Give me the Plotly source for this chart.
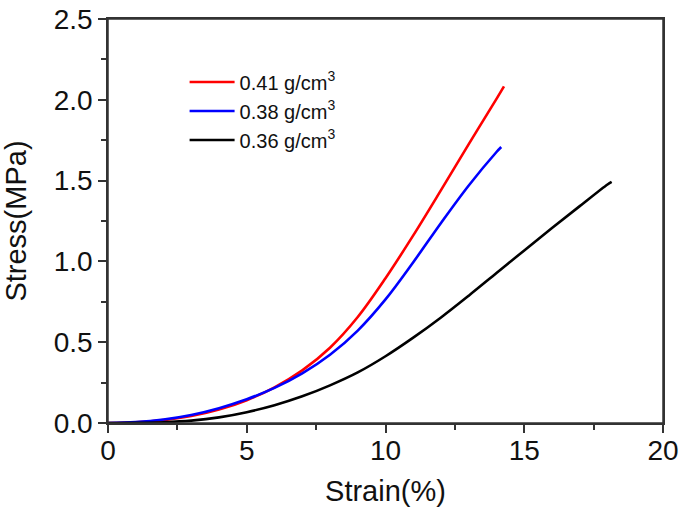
import plotly.graph_objects as go

# Data
strain_041 = [0, 1, 2, 3, 4, 5, 6, 7, 8, 9, 10, 11, 12, 13, 14, 14.27]
stress_041 = [0, 0.005, 0.018, 0.043, 0.083, 0.141, 0.221, 0.326, 0.466, 0.656, 0.896, 1.161, 1.441, 1.726, 2.006, 2.083]

strain_038 = [0, 1, 2, 3, 4, 5, 6, 7, 8, 9, 10, 11, 12, 13, 14, 14.17]
stress_038 = [0, 0.006, 0.022, 0.050, 0.092, 0.147, 0.217, 0.307, 0.422, 0.572, 0.765, 0.995, 1.238, 1.470, 1.677, 1.708]

strain_036 = [0, 1, 2, 3, 4, 5, 6, 7, 8, 9, 10, 11, 12, 13, 14, 15, 16, 17, 18, 18.15]
stress_036 = [0, 0.001, 0.005, 0.015, 0.035, 0.067, 0.110, 0.165, 0.233, 0.313, 0.413, 0.528, 0.653, 0.788, 0.928, 1.068, 1.206, 1.342, 1.476, 1.492]

series_names = ["0.41 g/cm<sup>3</sup>", "0.38 g/cm<sup>3</sup>", "0.36 g/cm<sup>3</sup>"]
series_colors = ["#FF0000", "#0000FF", "#000000"]

x_tickvals = [0, 5, 10, 15, 20]
y_tickvals = [0.0, 0.5, 1.0, 1.5, 2.0, 2.5]
y_ticktext = ["0.0", "0.5", "1.0", "1.5", "2.0", "2.5"]

fig = go.Figure()
for xs, ys, name, color in zip(
    [strain_041, strain_038, strain_036],
    [stress_041, stress_038, stress_036],
    series_names, series_colors):
    fig.add_trace(go.Scatter(x=xs, y=ys, mode="lines", name=name,
                             line=dict(color=color, width=2.6, shape="spline", smoothing=1.0)))

axis_common = dict(
    showline=True, linecolor="#333333", linewidth=1.5, mirror=True,
    ticks="outside", ticklen=8, tickwidth=1.5, tickcolor="#333333",
    showgrid=False, zeroline=False, automargin=False,
    ticklabeloverflow="allow",
    tickfont=dict(size=28, color="#111111"),
)

fig.update_xaxes(
    range=[0, 20], tickvals=x_tickvals, ticklabelstandoff=-6,
    minor=dict(ticks="outside", ticklen=5, dtick=2.5, tickwidth=1.5, tickcolor="#333333", showgrid=False),
    title=dict(text="Strain(%)", font=dict(size=29, color="#111111"), standoff=15),
    **axis_common)
fig.update_yaxes(
    range=[0, 2.5], tickvals=y_tickvals, ticktext=y_ticktext,
    minor=dict(ticks="outside", ticklen=5, dtick=0.25, tickwidth=1.5, tickcolor="#333333", showgrid=False),
    title=dict(text="Stress(MPa)", font=dict(size=29, color="#111111"), standoff=27),
    **axis_common)

# plot frame (box around the plotting area)
fig.add_shape(type="rect", xref="paper", yref="paper", x0=0, y0=0, x1=1, y1=1,
              line=dict(color="#333333", width=1.5), fillcolor="rgba(0,0,0,0)", layer="above")

fig.update_layout(
    width=685, height=510,
    margin=dict(l=108, r=22, t=19, b=87),
    paper_bgcolor="white", plot_bgcolor="white",
    font=dict(family="Liberation Sans, Arial, sans-serif", color="#111111"),
    showlegend=True,
    legend=dict(x=0.138, y=0.8925, xanchor="left", yanchor="top",
                font=dict(size=20, color="#111111"), bgcolor="rgba(0,0,0,0)",
                itemwidth=45, tracegroupgap=0),
)

# remove the default 8 px page margin so the figure sits at the window's corner
fig.write_html("out.html",
               config={"displayModeBar": False},
               post_script="document.body.style.margin='0';document.body.style.overflow='hidden';")
